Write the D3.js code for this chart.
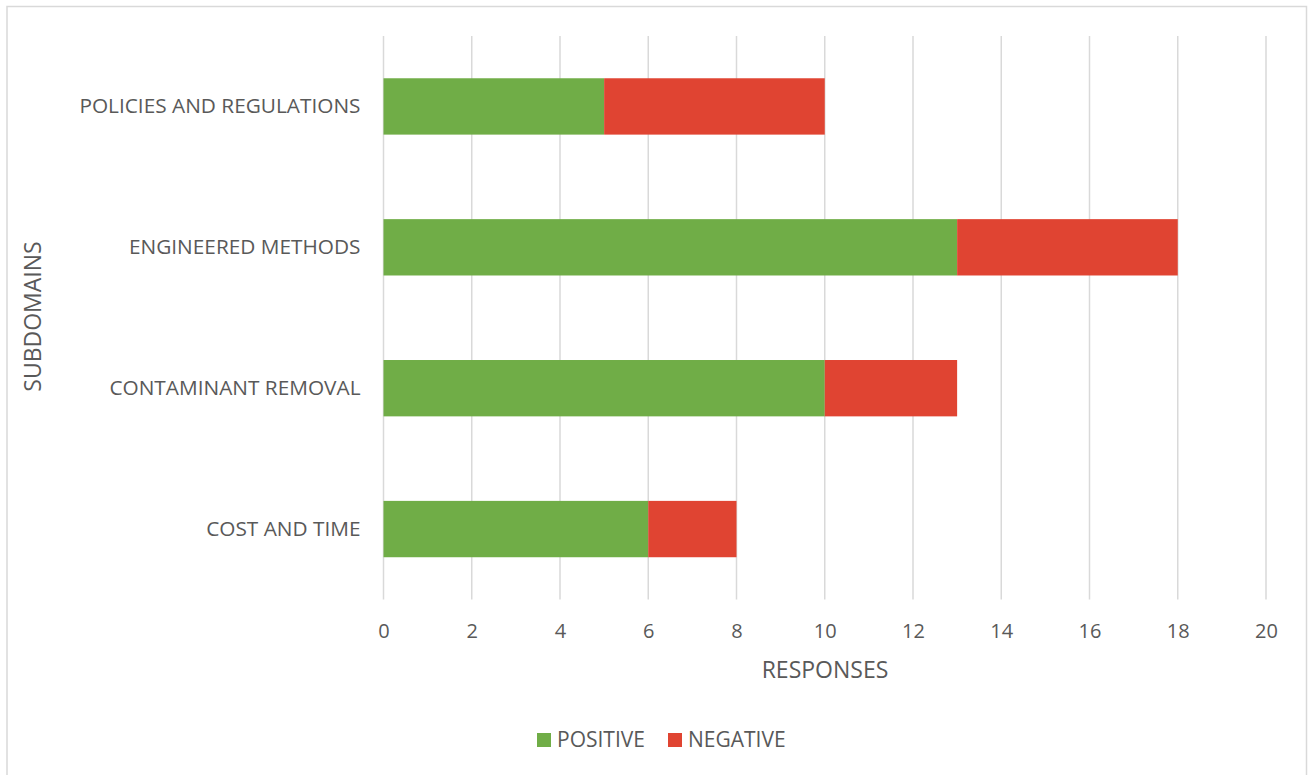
<!DOCTYPE html>
<html>
<head>
	<title>Subdomains</title>
	<script src="https://cdn.jsdelivr.net/npm/d3@7/dist/d3.min.js"></script>
	<style>
		body { margin: 0; background: #fff; }
		text { font-family: "Open Sans", "DejaVu Sans", sans-serif; fill: #595959; }
	</style>
</head>
<body>
<script>
	var categories = ["POLICIES AND REGULATIONS", "ENGINEERED METHODS", "CONTAMINANT REMOVAL", "COST AND TIME"];
	var positive = [5, 13, 10, 6];
	var negative = [5, 5, 3, 2];
	var seriesNames = ["POSITIVE", "NEGATIVE"];
	var seriesColors = ["#70AD47", "#E04432"];
	var xTicks = [0, 2, 4, 6, 8, 10, 12, 14, 16, 18, 20];

	var svgWidth = 1308, svgHeight = 775;
	var svg = d3.select("body").append("svg")
		.attr("width", svgWidth)
		.attr("height", svgHeight);

	// chart border
	svg.append("rect")
		.attr("x", 7).attr("y", 6.5)
		.attr("width", 1299.5).attr("height", 780)
		.attr("fill", "#fff")
		.attr("stroke", "#d9d9d9")
		.attr("stroke-width", 1.5);

	var plot = {left: 383.5, right: 1266, top: 36, bottom: 599.5};

	var x = d3.scaleLinear().domain([0, 20]).range([plot.left, plot.right]);
	var y = d3.scaleBand().domain(categories).range([plot.top, plot.bottom])
		.paddingInner(0.6).paddingOuter(0.3);

	// gridlines
	svg.append("g").selectAll("line")
		.data(xTicks)
		.enter().append("line")
		.attr("x1", function(d) { return x(d); })
		.attr("x2", function(d) { return x(d); })
		.attr("y1", plot.top).attr("y2", plot.bottom)
		.attr("stroke", "#d9d9d9")
		.attr("stroke-width", 1.5);

	// stack the data
	var rows = categories.map(function(c, i) {
		return {cat: c, POSITIVE: positive[i], NEGATIVE: negative[i]};
	});
	var stacked = d3.stack().keys(seriesNames)(rows);

	svg.append("g").selectAll("g")
		.data(stacked)
		.enter().append("g")
		.attr("fill", function(d, i) { return seriesColors[i]; })
		.selectAll("rect")
		.data(function(d) { return d; })
		.enter().append("rect")
		.attr("x", function(d) { return x(d[0]); })
		.attr("width", function(d) { return x(d[1]) - x(d[0]); })
		.attr("y", function(d) { return y(d.data.cat); })
		.attr("height", y.bandwidth());

	// x axis labels
	var xAxis = d3.axisBottom(x).tickValues(xTicks).tickSize(0).tickPadding(24);
	var gx = svg.append("g")
		.attr("transform", "translate(0," + plot.bottom + ")")
		.call(xAxis);
	gx.select(".domain").remove();
	gx.selectAll("text").style("font-size", "20px").attr("fill", "#595959");

	// y axis labels
	var yAxis = d3.axisLeft(y).tickSize(0).tickPadding(23);
	var gy = svg.append("g")
		.attr("transform", "translate(" + plot.left + ",0)")
		.call(yAxis);
	gy.select(".domain").remove();
	gy.selectAll("text").style("font-size", "20.8px").attr("fill", "#595959");

	// axis titles
	svg.append("text")
		.attr("x", 825)
		.attr("y", 678)
		.attr("text-anchor", "middle")
		.style("font-size", "23px")
		.text("RESPONSES");

	svg.append("text")
		.attr("transform", "translate(41,316.5) rotate(-90)")
		.attr("text-anchor", "middle")
		.style("font-size", "23px")
		.text("SUBDOMAINS");

	// legend
	var legendX = [537, 668];
	var legend = svg.append("g").selectAll("g")
		.data(seriesNames)
		.enter().append("g")
		.attr("transform", function(d, i) { return "translate(" + legendX[i] + ",733)"; });
	legend.append("rect")
		.attr("width", 14).attr("height", 14)
		.attr("fill", function(d, i) { return seriesColors[i]; });
	legend.append("text")
		.attr("x", 20).attr("y", 7)
		.attr("dy", "0.35em")
		.style("font-size", "21px")
		.text(function(d) { return d; });
</script>
</body>
</html>
